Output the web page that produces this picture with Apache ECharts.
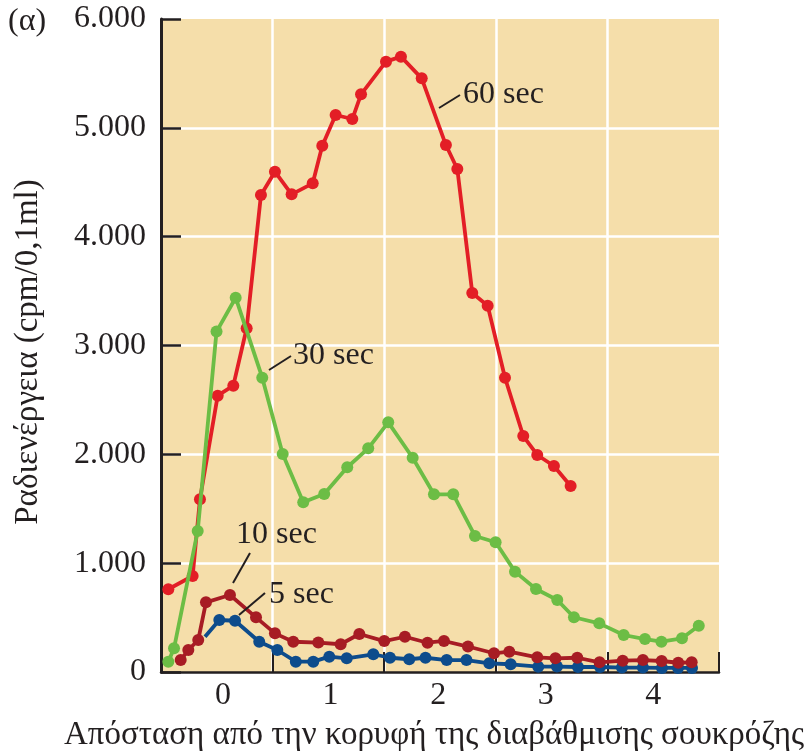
<!DOCTYPE html>
<html>
<head>
<meta charset="utf-8">
<script src="https://cdn.jsdelivr.net/npm/echarts@6/dist/echarts.min.js"></script>
<style>
html,body{margin:0;padding:0;background:#fff;}
#c{width:812px;height:753px;}
</style>
</head>
<body>
<div id="c"></div>
<script>
// ---- data (distance from top of sucrose gradient, radioactivity cpm/0.1ml) ----
const xTickLabels = [0, 1, 2, 3, 4];
const yTicks = [0, 1000, 2000, 3000, 4000, 5000, 6000];

const sec60X = [-0.508,-0.282,-0.214,-0.049,0.096,0.220,0.353,0.483,0.638,0.834,0.923,1.047,1.202,1.283,1.515,1.654,1.847,2.072,2.178,2.317,2.460,2.621,2.791,2.921,3.076,3.231];
const sec60Y = [760,882,1587,2539,2631,3158,4383,4597,4389,4490,4836,5118,5081,5308,5608,5654,5455,4842,4622,3482,3366,2704,2168,1994,1893,1709];

const sec30X = [-0.508,-0.455,-0.235,-0.060,0.118,0.365,0.555,0.746,0.941,1.155,1.350,1.536,1.763,1.961,2.140,2.342,2.534,2.714,2.909,3.107,3.262,3.497,3.724,3.922,4.075,4.266,4.422];
const sec30Y = [95,218,1296,3128,3439,2704,2003,1559,1635,1881,2055,2294,1969,1633,1633,1250,1192,922,763,662,503,447,340,303,278,310,425];

const sec10X = [-0.393,-0.322,-0.230,-0.158,0.065,0.307,0.483,0.653,0.886,1.094,1.267,1.499,1.691,1.901,2.054,2.277,2.519,2.661,2.921,3.090,3.293,3.500,3.715,3.903,4.077,4.231,4.356];
const sec10Y = [110,202,294,640,707,502,355,278,270,255,349,284,324,269,285,234,172,187,135,126,131,89,104,110,101,85,89];

const sec5X = [-0.167,-0.034,0.112,0.337,0.505,0.677,0.839,0.988,1.150,1.397,1.552,1.731,1.882,2.079,2.263,2.475,2.674,2.930,3.104,3.299,3.504,3.708,3.903,4.080,4.229,4.359];
const sec5Y = [324,478,471,278,202,95,95,141,126,163,131,117,131,110,110,80,71,49,50,46,46,41,41,37,37,37];

const seriesNames = ['5 sec', '10 sec', '60 sec', '30 sec'];
const seriesColors = ['#0D4C8C', '#A71C24', '#E31E26', '#6CBD45'];

const yAxisTitle = 'Ραδιενέργεια (cpm/0,1ml)';
const xAxisTitle = 'Απόσταση από την κορυφή της διαβάθμισης σουκρόζης';
const panelLabel = '(α)';

// ---- build ----
function pairs(xs, ys) { return xs.map((x, i) => [x, ys[i]]); }
const serif = '"Liberation Serif", "DejaVu Serif", serif';
const ink = '#231f20';

const d5 = pairs(sec5X, sec5Y);
d5[0] = { value: d5[0], symbol: 'none' };
const allData = [d5, pairs(sec10X, sec10Y), pairs(sec60X, sec60Y), pairs(sec30X, sec30Y)];

const chart = echarts.init(document.getElementById('c'), null, { renderer: 'canvas' });

function mkSeries(i) {
  return {
    name: seriesNames[i], type: 'line', xAxisIndex: 0, yAxisIndex: 0,
    data: allData[i], symbol: 'circle', symbolSize: 12, showSymbol: true,
    lineStyle: { color: seriesColors[i], width: 3.8 },
    itemStyle: { color: seriesColors[i] },
    emphasis: { disabled: true }, z: 3 + i
  };
}

function txt(text, x, y, opts) {
  return Object.assign({
    type: 'text', x: x, y: y, z: 100,
    style: Object.assign({ text: text, fill: ink, font: '32px ' + serif, textAlign: 'left', textVerticalAlign: 'middle' }, opts || {})
  });
}
function ln(x1, y1, x2, y2) {
  return { type: 'line', z: 100, shape: { x1, y1, x2, y2 }, style: { stroke: ink, lineWidth: 2 } };
}

chart.setOption({
  animation: false,
  backgroundColor: '#ffffff',
  grid: { left: 161, right: 93, top: 19, bottom: 81, show: true, backgroundColor: '#F5DEAA', borderWidth: 0 },
  xAxis: [
    {
      type: 'value', min: -0.576, max: 4.61, position: 'bottom',
      axisLine: { show: false, onZero: false }, axisTick: { show: false }, splitLine: { show: false },
      axisLabel: { customValues: xTickLabels, fontSize: 32, fontFamily: serif, color: ink, margin: 8 }
    },
    {
      type: 'value', min: 0, max: 5, interval: 1, position: 'bottom',
      axisLine: { show: true, onZero: false, lineStyle: { color: ink, width: 2.5 } },
      axisTick: { show: true, inside: true, length: 20, lineStyle: { color: ink, width: 2 } },
      axisLabel: { show: false },
      splitLine: { show: true, showMinLine: false, showMaxLine: false, lineStyle: { color: '#ffffff', width: 2.5 } }
    }
  ],
  yAxis: {
    type: 'value', min: 0, max: 6000, interval: 1000, position: 'left',
    axisLine: { show: true, onZero: false, lineStyle: { color: ink, width: 3 } },
    axisTick: { show: true, inside: true, length: 20, lineStyle: { color: ink, width: 2.5 } },
    axisLabel: { fontSize: 32, fontFamily: serif, color: ink, margin: 15,
      formatter: v => v === 0 ? '0' : (v / 1000) + '.000' },
    splitLine: { show: true, showMinLine: false, showMaxLine: false, lineStyle: { color: '#ffffff', width: 2.5 } }
  },
  series: [0, 1, 2, 3].map(mkSeries),
  graphic: [
    txt(panelLabel, 8, 22),
    Object.assign(txt(yAxisTitle, 28, 352, { textAlign: 'center', font: '33px ' + serif }), { rotation: Math.PI / 2 }),
    txt(xAxisTitle, 434, 735, { textAlign: 'center', font: '33px ' + serif }),
    txt('60 sec', 463, 95),
    ln(439, 108, 460, 95),
    txt('30 sec', 293, 356),
    ln(269, 370, 291, 356),
    txt('10 sec', 236, 535),
    ln(233, 583, 250, 553),
    txt('5 sec', 269, 595),
    ln(239, 615, 265, 593)
  ]
});
</script>
</body>
</html>
